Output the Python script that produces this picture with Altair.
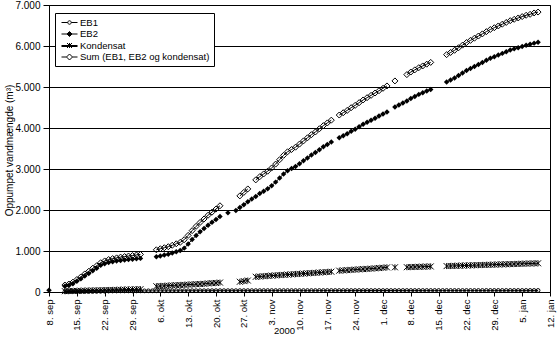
import altair as alt
import pandas as pd

START = pd.Timestamp("2000-09-08")

# Daily readings (m3). Each segment: (days after 8 Sep 2000, consecutive daily values)
eb1_segments = [
    (4, [10, 12, 14, 15, 16, 18, 19, 20, 21, 22, 23, 24, 25, 25, 26, 26, 27, 27, 28, 28,
         28, 29, 29, 29, 30, 30, 30, 30, 31, 31, 31, 31, 32, 32, 32, 32, 32, 33, 33, 33,
         33, 33, 33, 33, 34, 34, 34, 34, 34, 34, 35, 35, 35, 35, 35, 35, 35, 35, 35, 35,
         35, 35, 35, 35, 36, 36, 36, 36, 36, 36, 36, 36, 36, 36, 36, 36, 36, 36, 36, 36,
         36, 36, 36, 36, 36, 37, 37, 37, 37, 37, 37, 37, 37, 37, 37, 37, 37, 37, 37, 37,
         37, 37, 37, 37, 37, 37, 38, 38, 38, 38, 38, 38, 38, 38, 38, 38, 38, 38, 38, 38]),
]

eb2_segments = [
    (0, [40]),
    (4, [140, 160, 200, 260, 320, 390, 450, 520, 580, 650, 690, 720, 740, 755, 770, 780,
         790, 800, 810, 820]),
    (27, [860, 880, 900, 920, 950, 980, 1010, 1070, 1170, 1280, 1380, 1470, 1550, 1630,
          1700, 1770, 1840]),
    (45, [1930]),
    (47, [1990, 2060, 2130, 2200, 2270, 2330, 2400, 2460, 2520, 2590, 2680, 2780, 2880,
          2960, 3010, 3060, 3130, 3200, 3270, 3340, 3400, 3470, 3540, 3600, 3660]),
    (73, [3760, 3810, 3860, 3920, 3970, 4030, 4090, 4140, 4190, 4240, 4290, 4340, 4390]),
    (87, [4510, 4560, 4610, 4660, 4720, 4770, 4820, 4860, 4900, 4940]),
    (100, [5120, 5170, 5220, 5280, 5340, 5400, 5450, 5500, 5550, 5600, 5650, 5700, 5740,
           5780, 5820, 5860, 5900, 5930, 5960, 5990, 6020, 6040, 6070, 6090]),
]

kondensat_segments = [
    (4, [20, 22, 25, 28, 30, 33, 35, 38, 40, 42, 45, 48, 50, 52, 55, 58, 60, 62, 65, 68]),
    (27, [140, 145, 150, 155, 160, 165, 170, 175, 180, 185, 190, 195, 200, 210, 215, 220,
          230]),
    (48, [250, 265, 280]),
    (52, [370, 378, 385, 392, 400, 405, 412, 418, 425, 430, 437, 443, 450, 456, 462, 468,
          475, 481, 488, 495]),
    (73, [520, 527, 533, 540, 546, 552, 558, 564, 570, 577, 584, 592, 600]),
    (87, [602]),
    (90, [605, 608, 611, 614, 617, 620, 623]),
    (100, [632, 635, 638, 641, 644, 647, 650, 653, 656, 659, 662, 665, 668, 671, 674, 677,
           680, 683, 686, 689, 692, 695, 698, 700]),
]

SERIES = ["EB1", "EB2", "Kondensat", "Sum (EB1, EB2 og kondensat)"]
MONTHS = ["jan", "feb", "mar", "apr", "maj", "jun", "jul", "aug", "sep", "okt", "nov", "dec"]


def expand(segments):
    out = {}
    for offset, values in segments:
        for i, v in enumerate(values):
            out[offset + i] = v
    return pd.Series(out)


eb1 = expand(eb1_segments)
eb2 = expand(eb2_segments)
kond = expand(kondensat_segments)
total = (eb1 + eb2 + kond).dropna()

rows = []
for name, s in zip(SERIES, [eb1, eb2, kond, total]):
    s = s.sort_index()
    seg = 0
    prev = None
    for day, v in s.items():
        if prev is not None and day - prev > 1:
            seg += 1
        prev = day
        rows.append({
            "serie": name,
            "dato": (START + pd.Timedelta(days=int(day))).strftime("%Y-%m-%d"),
            "m3": float(v),
            "seg": f"{name}#{seg}",
        })
df = pd.DataFrame(rows)

tick_days = list(range(0, 127, 7))
tick_ms = [int((START + pd.Timedelta(days=d)).value // 10**6) for d in tick_days]
month_arr = "[" + ",".join(f"'{m}'" for m in MONTHS) + "]"

x = alt.X(
    "dato:T",
    scale=alt.Scale(type="utc", domain=[tick_ms[0], tick_ms[-1]]),
    axis=alt.Axis(
        title="2000",
        values=tick_ms,
        labelExpr=f"utcFormat(datum.value, '%-d') + '. ' + {month_arr}[utcmonth(datum.value)]",
        labelAngle=270,
        labelFlush=False,
        labelOverlap=False,
        labelPadding=3,
        labelFontSize=9.5,
        tickSize=4,
        grid=False,
        titleFontSize=9.5,
        titleX=235,
        titleY=38,
        titleAlign="center",
        titleBaseline="middle",
    ),
)
y = alt.Y(
    "m3:Q",
    scale=alt.Scale(domain=[0, 7000], nice=False),
    axis=alt.Axis(
        title="Oppumpet vandmængde (m³)",
        values=list(range(0, 7001, 1000)),
        labelExpr="replace(format(datum.value, ','), ',', '.')",
        tickSize=6,
        labelPadding=3,
        grid=True,
        gridColor="black",
        gridOpacity=1,
        titleAngle=270,
        titleX=-37,
        titleY=145,
        titleAlign="center",
        titleBaseline="alphabetic",
    ),
)

base = alt.Chart(df)

lines = base.mark_line(color="black", strokeWidth=1).encode(
    x=x, y=y, detail="seg:N",
    strokeWidth=alt.condition(alt.datum.serie == "Kondensat", alt.value(2), alt.value(1)),
)

STAR = "M-1,-1L1,1M-1,1L1,-1M0,-1V1"

pts_sum = base.transform_filter(alt.datum.serie == SERIES[3]).mark_point(
    shape="diamond", size=36, filled=False, color="black", strokeWidth=1, opacity=1
).encode(x=x, y=y)
pts_eb2 = base.transform_filter(alt.datum.serie == "EB2").mark_point(
    shape="diamond", size=30, filled=True, color="black", opacity=1
).encode(x=x, y=y)
pts_kond = base.transform_filter(alt.datum.serie == "Kondensat").mark_point(
    shape=STAR, size=36, filled=False, color="black", strokeWidth=1, opacity=1
).encode(x=x, y=y)
pts_eb1 = base.transform_filter(alt.datum.serie == "EB1").mark_point(
    shape="circle", size=14, filled=False, color="black", strokeWidth=1, opacity=1
).encode(x=x, y=y)

# Legend symbols: short line with the series marker on it
LEGEND_SHAPES = [
    "M-0.6,0H0.65M1.35,0H2.6M1.35,0A0.35,0.35 0 1,1 0.65,0A0.35,0.35 0 1,1 1.35,0Z",
    "M-0.6,0H0.5M1.5,0H2.6M1,-0.5L1.5,0L1,0.5L0.5,0Z",
    "M-0.6,0H2.6M-0.6,0.2H2.6M0.5,-0.5L1.5,0.5M0.5,0.5L1.5,-0.5M1,-0.5V0.5",
    "M-0.6,0H0.4M1.6,0H2.6M1,-0.6L1.6,0L1,0.6L0.4,0Z",
]
LEGEND_FILLS = ["white", "black", "white", "white"]
LEGEND_STROKES = ["black", "black", "black", "black"]

legend = alt.Legend(
    title=None,
    orient="none",
    legendX=6,
    legendY=8,
    padding=4,
    strokeColor="black",
    fillColor="white",
    cornerRadius=0,
    symbolSize=100,
    symbolStrokeColor="black",
    symbolStrokeWidth=1,
    labelOffset=10,
    labelFontSize=9.5,
    labelFont="Liberation Sans",
    labelColor="black",
    rowPadding=1.5,
)
legend_layer = base.transform_filter("false").mark_point(
    filled=True, strokeWidth=1, size=100, opacity=1
).encode(
    x=x, y=y,
    shape=alt.Shape("serie:N", scale=alt.Scale(domain=SERIES, range=LEGEND_SHAPES), legend=legend),
    fill=alt.Fill("serie:N", scale=alt.Scale(domain=SERIES, range=LEGEND_FILLS), legend=legend),
    stroke=alt.Stroke("serie:N", scale=alt.Scale(domain=SERIES, range=LEGEND_STROKES), legend=legend),
)

chart = (
    alt.layer(lines, pts_eb1, pts_kond, pts_sum, pts_eb2, legend_layer)
    .properties(width=501, height=287, padding={"left": 49, "top": 5, "right": 9, "bottom": 49},
                autosize=alt.AutoSizeParams(type="none"), background="white")
    .configure_view(stroke="black", strokeWidth=1)
    .configure_axis(
        labelFont="Liberation Sans", titleFont="Liberation Sans",
        labelFontSize=10, titleFontSize=10, titleFontWeight="normal",
        labelColor="black", titleColor="black",
        domainColor="black", tickColor="black", domainWidth=1, tickWidth=1,
    )
)

chart.save("out.html", embed_options={"renderer": "svg", "actions": False})
